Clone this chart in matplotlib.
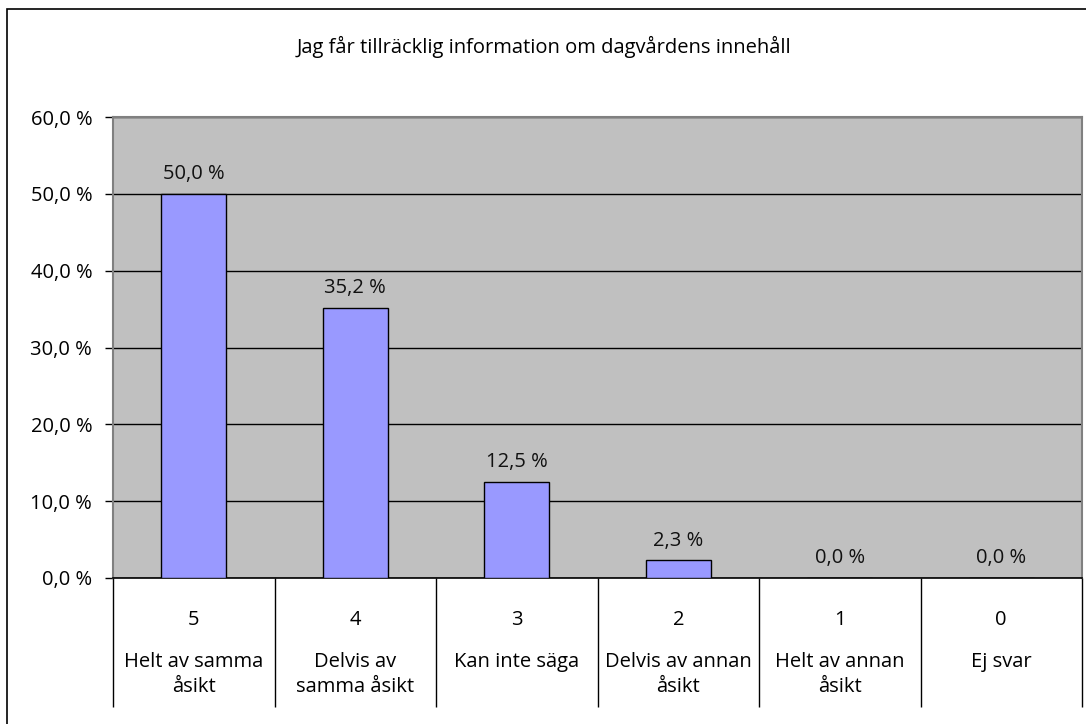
import matplotlib
matplotlib.use("Agg")
import matplotlib.pyplot as plt
from matplotlib.patches import Rectangle

plt.rcParams['font.family'] = ['Open Sans', 'DejaVu Sans']

# data
title = "Jag får tillräcklig information om dagvårdens innehåll"
codes = ["5", "4", "3", "2", "1", "0"]
names = ["Helt av samma\nåsikt", "Delvis av\nsamma åsikt", "Kan inte säga",
         "Delvis av annan\nåsikt", "Helt av annan\nåsikt", "Ej svar"]
values = [50.0, 35.2, 12.5, 2.3, 0.0, 0.0]
yticks = [0, 10, 20, 30, 40, 50, 60]
ytick_labels = ["0,0 %", "10,0 %", "20,0 %", "30,0 %", "40,0 %", "50,0 %", "60,0 %"]

W, H = 1086, 724
FS = 14.5
fig = plt.figure(figsize=(W / 100, H / 100), dpi=100)
fig.patch.set_facecolor("white")

# outer chart border (cut off at right/bottom like the reference)
fig.patches.append(Rectangle((7 / W, -0.05), 1.2, (H - 9) / H + 0.05,
                             transform=fig.transFigure, fill=False,
                             edgecolor="#000000", lw=1.2))

ax = fig.add_axes([113 / W, (H - 578) / H, (1082 - 113) / W, (578 - 117) / H])
ax.set_facecolor("#C0C0C0")

x = list(range(len(values)))
ax.bar(x, values, width=0.4, color="#9999FF", edgecolor="black", lw=1, zorder=3)

for xi, v in zip(x, values):
    ax.annotate(f"{v:.1f} %".replace(".", ","), (xi, v), xytext=(0, 7),
                textcoords="offset points", ha="center", va="bottom",
                fontsize=FS, color="#111111")

ax.set_xlim(-0.5, len(values) - 0.5)
ax.set_ylim(0, 60)
ax.set_yticks(yticks)
ax.set_yticklabels(ytick_labels, fontsize=FS)
ax.tick_params(axis="y", length=6, width=1, pad=9, color="black")
ax.set_xticks([])
ax.yaxis.grid(True, color="black", lw=1)
ax.set_axisbelow(True)

for s in ["top", "right", "left"]:
    ax.spines[s].set_color("#808080")
    ax.spines[s].set_linewidth(1.5)
ax.spines["bottom"].set_color("black")
ax.spines["bottom"].set_linewidth(1.2)

# table-like category area below the axis
xt = ax.get_xaxis_transform()
ax.vlines([i - 0.5 for i in range(len(values) + 1)], -0.28, 0, transform=xt,
          colors="black", lw=1, clip_on=False)
for xi, c, n in zip(x, codes, names):
    ax.annotate(c, (xi, 0), xycoords=xt, xytext=(0, -30.5), textcoords="offset points",
                ha="center", va="center", fontsize=FS)
    ax.annotate(n, (xi, 0), xycoords=xt, xytext=(0, -53.5), textcoords="offset points",
                ha="center", va="top", fontsize=FS, linespacing=1.3)

fig.text(544 / W, (H - 47) / H, title, ha="center", va="center", fontsize=FS)

fig.savefig("out.png", dpi=100)
